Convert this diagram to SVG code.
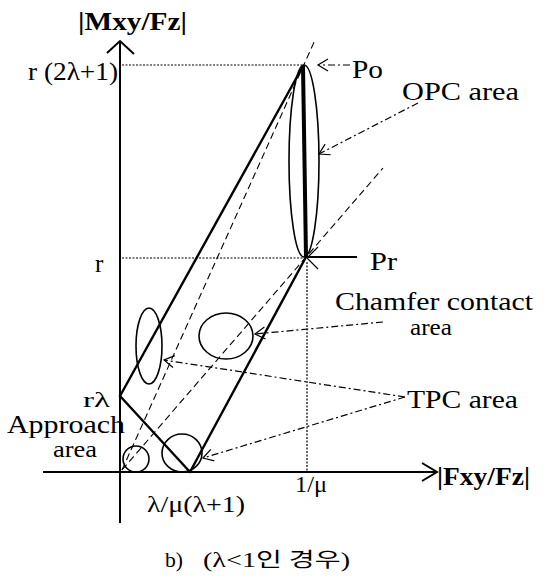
<svg xmlns="http://www.w3.org/2000/svg" width="550" height="578" viewBox="0 0 550 578">
<style>
.t{font-family:"Liberation Serif","Times New Roman",serif;font-size:25px;fill:#000}
.b{font-weight:bold}
.s{font-size:23px}
.xs{font-size:21px}
.ax{stroke:#000;stroke-width:2;fill:none}
.sol{stroke:#000;stroke-width:2.4;fill:none;stroke-linecap:round}
.thick{stroke:#000;stroke-width:4;fill:none}
.dash{stroke:#000;stroke-width:1.1;fill:none;stroke-dasharray:7,4}
.dot{stroke:#000;stroke-width:1.2;fill:none;stroke-dasharray:2,1.5}
.dd{stroke:#000;stroke-width:1.2;fill:none;stroke-dasharray:7,3,2,3}
.ell{stroke:#000;stroke-width:1.6;fill:none}
.ah{stroke:#000;stroke-width:1.2;fill:none}
.cap{font-family:"Liberation Serif","Noto Sans CJK KR",serif;font-size:20px;fill:#000}
</style>
<defs>
<marker id="arr" viewBox="-12 -8 14 16" markerWidth="14" markerHeight="16" refX="0" refY="0" orient="auto" markerUnits="userSpaceOnUse">
<path d="M-10,-6 L0,0 L-10,6" fill="none" stroke="#000" stroke-width="1.2"/>
</marker>
</defs>
<rect width="550" height="578" fill="#fff"/>

<g id="connectors">
<line class="ax" x1="120" y1="523" x2="120" y2="42"/>
<path class="ax" d="M107,53 L120,41 L134,54"/>
<line class="ax" x1="43" y1="472" x2="436" y2="472"/>
<path class="ax" d="M422,463 L437,472 L422,481"/>
<line class="dot" x1="122" y1="65" x2="303" y2="65"/>
<line class="dot" x1="122" y1="258" x2="305" y2="258"/>
<line class="dot" x1="307" y1="262" x2="307" y2="471"/>
<line class="dash" x1="122" y1="470" x2="315" y2="40"/>
<line class="dash" x1="122" y1="470" x2="383" y2="168"/>
<line class="sol" x1="120" y1="396" x2="303" y2="66"/>
<line class="sol" x1="120" y1="396" x2="190" y2="472"/>
<line class="sol" x1="190" y1="472" x2="306" y2="257"/>
<line class="thick" x1="303" y1="66" x2="306" y2="257"/>
<line class="ax" x1="357" y1="257" x2="308" y2="257"/>
<path class="ah" d="M318,247 L307,258 L318,269"/>
<line class="dd" x1="350" y1="65" x2="318" y2="65" marker-end="url(#arr)"/>
<line class="dd" x1="418" y1="103" x2="319" y2="154" marker-end="url(#arr)"/>
<line class="dd" x1="383" y1="322" x2="255" y2="334" marker-end="url(#arr)"/>
<line class="dd" x1="405" y1="397" x2="164" y2="360" marker-end="url(#arr)"/>
<line class="dd" x1="405" y1="397" x2="203" y2="458" marker-end="url(#arr)"/>
</g>

<g id="opc-area"><ellipse class="ell" cx="304" cy="161" rx="15" ry="96"/></g>
<g id="tpc-ellipse"><ellipse class="ell" cx="149" cy="346" rx="13" ry="38"/></g>
<g id="chamfer-circle"><ellipse class="ell" cx="226" cy="336" rx="27" ry="23"/></g>
<g id="approach-circle"><ellipse class="ell" cx="136" cy="459" rx="13" ry="13"/></g>
<g id="tpc-circle"><ellipse class="ell" cx="182" cy="453" rx="20" ry="19"/></g>

<g id="labels">
<text class="t b" x="78" y="30" textLength="109" lengthAdjust="spacingAndGlyphs">|Mxy/Fz|</text>
<text class="t" x="28" y="80" textLength="90" lengthAdjust="spacingAndGlyphs">r (2λ+1)</text>
<text class="t" x="95" y="272">r</text>
<text class="t" x="352" y="78" textLength="31" lengthAdjust="spacingAndGlyphs">Po</text>
<text class="t" x="402" y="100" textLength="117" lengthAdjust="spacingAndGlyphs">OPC area</text>
<text class="t" x="370" y="270" textLength="27" lengthAdjust="spacingAndGlyphs">Pr</text>
<text class="t" x="335" y="310" textLength="198" lengthAdjust="spacingAndGlyphs">Chamfer contact</text>
<text class="t s" x="410" y="335" textLength="42" lengthAdjust="spacingAndGlyphs">area</text>
<text class="t" x="407" y="408" textLength="111" lengthAdjust="spacingAndGlyphs">TPC area</text>
<text class="t xs" x="83" y="407" textLength="27" lengthAdjust="spacingAndGlyphs">rλ</text>
<text class="t" x="7" y="433" textLength="118" lengthAdjust="spacingAndGlyphs">Approach</text>
<text class="t s" x="53" y="457" textLength="44" lengthAdjust="spacingAndGlyphs">area</text>
<text class="t s" x="147" y="512" textLength="98" lengthAdjust="spacingAndGlyphs">λ/μ(λ+1)</text>
<text class="t s" x="295" y="492" textLength="32" lengthAdjust="spacingAndGlyphs">1/μ</text>
<text class="t b" x="437" y="485" textLength="93" lengthAdjust="spacingAndGlyphs">|Fxy/Fz|</text>
<text class="cap" x="165" y="567" textLength="18" lengthAdjust="spacingAndGlyphs">b)</text>
<text class="cap" x="203" y="567" textLength="147" lengthAdjust="spacingAndGlyphs">(λ&lt;1인 경우)</text>
</g>
</svg>
